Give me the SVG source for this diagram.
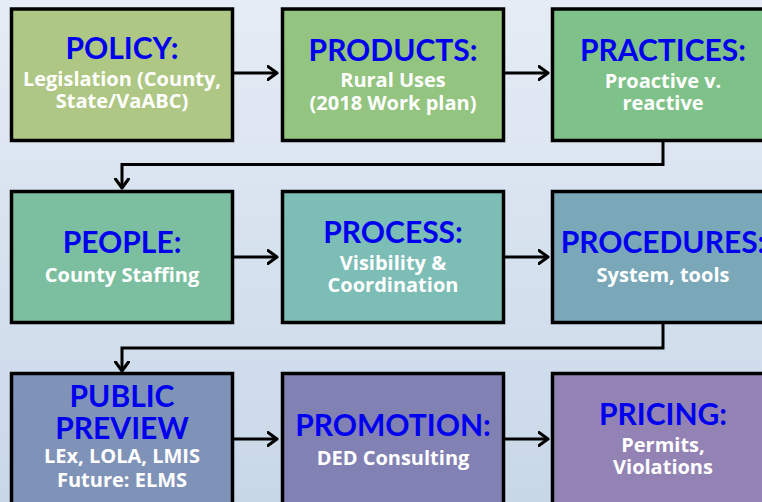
<svg xmlns="http://www.w3.org/2000/svg" width="762" height="502" viewBox="0 0 762 502">
<defs>
<linearGradient id="bg" x1="0" y1="0" x2="0" y2="1">
<stop offset="0" stop-color="#e5ecf5"/>
<stop offset="1" stop-color="#c8d7e8"/>
</linearGradient>
<marker id="arr" viewBox="0 0 12 16" refX="10.5" refY="8" markerWidth="12" markerHeight="16" markerUnits="userSpaceOnUse" orient="auto">
<path d="M1.5,1.5 L10.5,8 L1.5,14.5" fill="none" stroke="#000" stroke-width="3" stroke-linecap="round" stroke-linejoin="round"/>
</marker>
<style>
.box{stroke:#000;stroke-width:3.5}
.t{font-family:Lato,"Open Sans","Liberation Sans",sans-serif;font-weight:bold;font-size:30px;fill:#0000ee;text-anchor:middle}
.s{font-family:"Open Sans","Noto Sans","Liberation Sans",sans-serif;font-weight:bold;font-size:20px;fill:#fff;text-anchor:middle}
.c{fill:none;stroke:#000;stroke-width:3;marker-end:url(#arr)}
</style>
</defs>
<rect width="762" height="502" fill="url(#bg)"/>
<g id="connectors">
<path class="c" d="M232,73 H277"/>
<path class="c" d="M503,73 H548"/>
<path class="c" d="M663,141 V164.5 H122 V188"/>
<path class="c" d="M232,257 H277"/>
<path class="c" d="M503,257 H548"/>
<path class="c" d="M663,323 V348 H122 V371"/>
<path class="c" d="M232,439 H277"/>
<path class="c" d="M503,439 H548"/>
</g>
<g id="policy">
<rect class="box" x="11.5" y="9" width="221" height="131.5" fill="#afc784"/>
<text class="t" x="122" y="59">POLICY:</text>
<text class="s" x="122" y="86">Legislation (County,</text>
<text class="s" x="122" y="108">State/VaABC)</text>
</g>
<g id="products">
<rect class="box" x="282.5" y="9" width="221" height="131.5" fill="#93c480"/>
<text class="t" x="393" y="61">PRODUCTS:</text>
<text class="s" x="393" y="87">Rural Uses</text>
<text class="s" x="393" y="110">(2018 Work plan)</text>
</g>
<g id="practices">
<rect class="box" x="552.5" y="9" width="221" height="131.5" fill="#7fc289"/>
<text class="t" x="663" y="61">PRACTICES:</text>
<text class="s" x="663" y="88">Proactive v.</text>
<text class="s" x="663" y="110">reactive</text>
</g>
<g id="people">
<rect class="box" x="11.5" y="191.5" width="221" height="131" fill="#7cbfa0"/>
<text class="t" x="122" y="253">PEOPLE:</text>
<text class="s" x="122" y="282">County Staffing</text>
</g>
<g id="process">
<rect class="box" x="282.5" y="191.5" width="221" height="131" fill="#7cbdb6"/>
<text class="t" x="393" y="243">PROCESS:</text>
<text class="s" x="393" y="270">Visibility &amp;</text>
<text class="s" x="393" y="292">Coordination</text>
</g>
<g id="procedures">
<rect class="box" x="552.5" y="191.5" width="221" height="131" fill="#7aa8b9"/>
<text class="t" x="663" y="253">PROCEDURES:</text>
<text class="s" x="663" y="282">System, tools</text>
</g>
<g id="public-preview">
<rect class="box" x="11.5" y="373.5" width="221" height="131" fill="#7f93b8"/>
<text class="t" x="122" y="407">PUBLIC</text>
<text class="t" x="122" y="439">PREVIEW</text>
<text class="s" x="122" y="463">LEx, LOLA, LMIS</text>
<text class="s" x="122" y="487">Future: ELMS</text>
</g>
<g id="promotion">
<rect class="box" x="282.5" y="373.5" width="221" height="131" fill="#8281b4"/>
<text class="t" x="393" y="436">PROMOTION:</text>
<text class="s" x="393" y="465">DED Consulting</text>
</g>
<g id="pricing">
<rect class="box" x="552.5" y="373.5" width="221" height="131" fill="#9383b4"/>
<text class="t" x="663" y="425">PRICING:</text>
<text class="s" x="663" y="452">Permits,</text>
<text class="s" x="663" y="474">Violations</text>
</g>
</svg>
